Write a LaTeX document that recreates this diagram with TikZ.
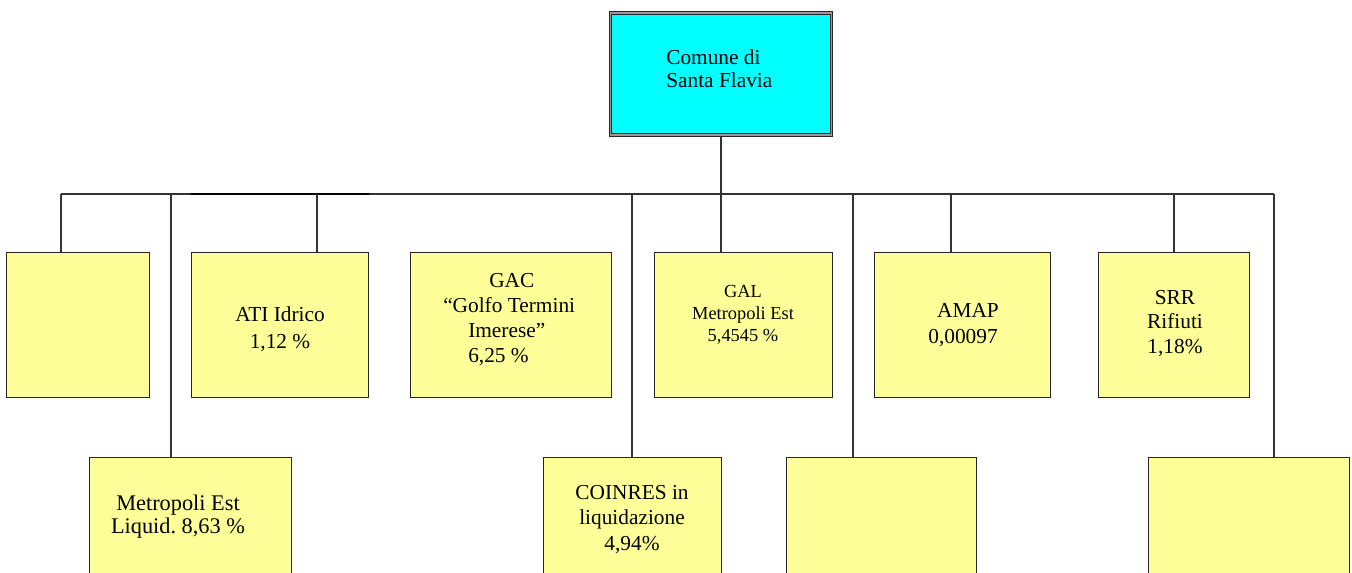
\documentclass[tikz,border=0pt]{standalone}
\usepackage{fontspec}
\setmainfont{Liberation Serif}
\frenchspacing
\definecolor{boxyellow}{HTML}{FFFF99}
\definecolor{topcyan}{HTML}{00FFFF}
\begin{document}
\begin{tikzpicture}[x=0.75pt,y=-0.75pt,
  conn/.style={draw=black!80, line width=1.1pt},
  busthick/.style={draw=black, line width=2pt},
  ybox/.style={rectangle, draw=black!85, line width=0.8pt, fill=boxyellow, inner sep=0pt, minimum height=108pt},
  lowbox/.style={ybox, minimum height=106.5pt},
  topbox/.style={rectangle, draw=black!85, fill=topcyan, double=black!40, double distance=1.2pt, line width=0.6pt, inner sep=0pt, minimum width=166pt, minimum height=91.5pt},
  lbl/.style={inner sep=0pt, align=center, text=black}
]
\useasboundingbox (0,0) rectangle (1352,573);
\clip (0,0) rectangle (1352,573);

% nodes (boxes)
\node[topbox] (top) at (721,74) {};
\node[ybox, minimum width=106.5pt] (b1) at (78,325) {};
\node[ybox, minimum width=132pt] (ati) at (280,325) {};
\node[ybox, minimum width=150pt] (gac) at (511,325) {};
\node[ybox, minimum width=132.75pt] (gal) at (743.5,325) {};
\node[ybox, minimum width=131.25pt] (amap) at (962.5,325) {};
\node[ybox, minimum width=112.5pt] (srr) at (1174,325) {};
\node[lowbox, minimum width=150.75pt] (met) at (190.5,529) {};
\node[lowbox, minimum width=132.75pt] (coin) at (632.5,529) {};
\node[lowbox, minimum width=141.75pt] (e1) at (881.5,529) {};
\node[lowbox, minimum width=150pt] (e2) at (1249,529) {};

% bus coordinates
\coordinate (bus) at (721,194);
\coordinate (busL) at (61,194);
\coordinate (busR) at (1274,194);
\coordinate (dmet) at (171,194);
\coordinate (dati) at (317,194);
\coordinate (dcoin) at (632,194);
\coordinate (de1) at (853,194);
\coordinate (damap) at (951,194);
\coordinate (dsrr) at (1174,194);

% connectors
\draw[conn] (top.south) -- (top.south |- gal.north);
\draw[conn] (busL) -- (busR);
\draw[busthick] (ati.west |- bus) -- (ati.east |- bus);
\draw[conn] (busL) -- (busL |- b1.north);
\draw[conn] (dmet) -- (dmet |- met.north);
\draw[conn] (dati) -- (dati |- ati.north);
\draw[conn] (dcoin) -- (dcoin |- coin.north);
\draw[conn] (de1) -- (de1 |- e1.north);
\draw[conn] (damap) -- (damap |- amap.north);
\draw[conn] (dsrr) -- (dsrr |- srr.north);
\draw[conn] (busR) -- (busR |- e2.north);

% redraw boxes on top of connectors
\node[topbox] at (top) {};
\foreach \n in {b1,ati,gac,gal,amap,srr,met,coin,e1,e2} {
  \draw[draw=black!85, line width=0.8pt, fill=boxyellow] (\n.north west) rectangle (\n.south east);
}

% labels
\node[lbl, anchor=west, align=left, font=\fontsize{16}{17.5}\selectfont] (tcomune) at (666,68.5) {Comune di\\Santa Flavia};
\node[lbl, font=\fontsize{16}{20}\selectfont] (tati) at (280,329) {ATI Idrico\\1,12 \%};
\node[lbl, anchor=west, align=left, font=\fontsize{16}{18.75}\selectfont] (tgac) at (443,320) {\hspace*{34.5pt}GAC\\“Golfo Termini\\\hspace*{18.75pt}Imerese”\\\hspace*{18.75pt}6,25 \%};
\node[lbl, font=\fontsize{13.8}{16.5}\selectfont] (tgal) at (743,315) {GAL\\Metropoli Est\\5,4545 \%};
\node[lbl, font=\fontsize{16}{19.5}\selectfont] (tamap) at (963,325.5) {\hspace*{7.5pt}AMAP\\0,00097};
\node[lbl, font=\fontsize{16}{18.5}\selectfont] (tsrr) at (1175,323.5) {SRR\\Rifiuti\\1,18\%};
\node[lbl, font=\fontsize{16.75}{17.5}\selectfont] (tmet) at (178,516.5) {Metropoli Est\\Liquid. 8,63 \%};
\node[lbl, font=\fontsize{16}{19}\selectfont] (tcoin) at (632,519.5) {COINRES in\\liquidazione\\4,94\%};
\end{tikzpicture}
\end{document}
